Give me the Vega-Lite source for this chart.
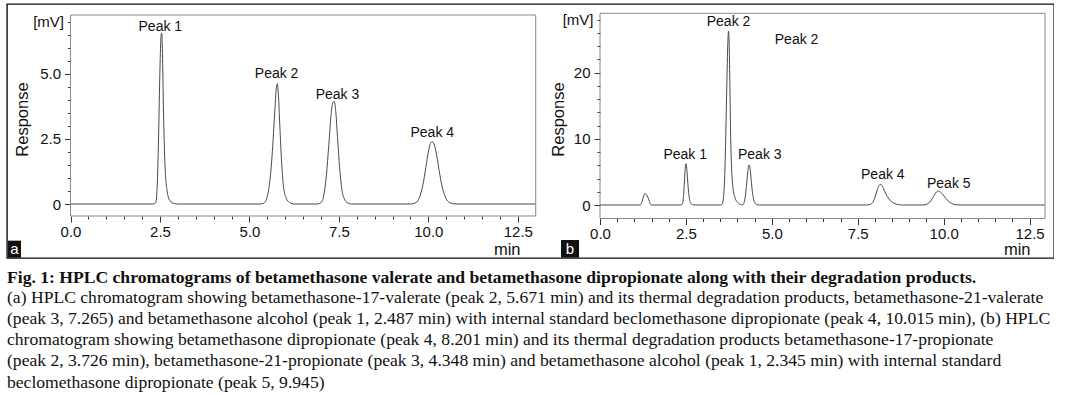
{
  "$schema": "https://vega.github.io/schema/vega-lite/v6.json",
  "width": 1047,
  "height": 254,
  "padding": {"left": 7, "top": 4, "right": 0, "bottom": 0},
  "background": "white",
  "datasets": {
    "a_trace": [
      {"t": 0, "r": 0}, {"t": 2.30, "r": 0}, {"t": 2.38, "r": 0.05}, {"t": 2.42, "r": 0.6}, {"t": 2.46, "r": 2.5}, {"t": 2.50, "r": 5.2}, {"t": 2.53, "r": 6.45}, {"t": 2.55, "r": 6.58}, {"t": 2.57, "r": 5.8}, {"t": 2.60, "r": 3.5}, {"t": 2.64, "r": 1.5}, {"t": 2.70, "r": 0.5}, {"t": 2.78, "r": 0.12}, {"t": 2.90, "r": 0.02}, {"t": 3.0, "r": 0},
      {"t": 5.30, "r": 0}, {"t": 5.40, "r": 0.03}, {"t": 5.50, "r": 0.3}, {"t": 5.58, "r": 1.0}, {"t": 5.65, "r": 2.2}, {"t": 5.71, "r": 3.6}, {"t": 5.76, "r": 4.55}, {"t": 5.78, "r": 4.62}, {"t": 5.81, "r": 4.2}, {"t": 5.85, "r": 3.0}, {"t": 5.90, "r": 1.6}, {"t": 5.95, "r": 0.7}, {"t": 6.02, "r": 0.25}, {"t": 6.12, "r": 0.06}, {"t": 6.25, "r": 0},
      {"t": 6.90, "r": 0}, {"t": 7.00, "r": 0.05}, {"t": 7.08, "r": 0.35}, {"t": 7.15, "r": 1.1}, {"t": 7.22, "r": 2.3}, {"t": 7.28, "r": 3.4}, {"t": 7.33, "r": 3.9}, {"t": 7.37, "r": 3.95}, {"t": 7.41, "r": 3.6}, {"t": 7.46, "r": 2.6}, {"t": 7.52, "r": 1.4}, {"t": 7.58, "r": 0.6}, {"t": 7.65, "r": 0.2}, {"t": 7.75, "r": 0.04}, {"t": 7.85, "r": 0},
      {"t": 9.50, "r": 0}, {"t": 9.65, "r": 0.05}, {"t": 9.75, "r": 0.25}, {"t": 9.85, "r": 0.75}, {"t": 9.93, "r": 1.4}, {"t": 10.00, "r": 2.0}, {"t": 10.06, "r": 2.33}, {"t": 10.11, "r": 2.4}, {"t": 10.16, "r": 2.3}, {"t": 10.23, "r": 1.9}, {"t": 10.30, "r": 1.3}, {"t": 10.38, "r": 0.7}, {"t": 10.47, "r": 0.28}, {"t": 10.57, "r": 0.08}, {"t": 10.70, "r": 0.01}, {"t": 10.80, "r": 0}, {"t": 13.0, "r": 0}
    ],
    "b_trace": [
      {"t": 0, "r": 0}, {"t": 1.12, "r": 0}, {"t": 1.18, "r": 0.05}, {"t": 1.23, "r": 0.6}, {"t": 1.27, "r": 1.4}, {"t": 1.31, "r": 1.75}, {"t": 1.35, "r": 1.55}, {"t": 1.40, "r": 1.1}, {"t": 1.44, "r": 0.5}, {"t": 1.48, "r": 0.05}, {"t": 1.53, "r": 0},
      {"t": 2.32, "r": 0}, {"t": 2.39, "r": 0.1}, {"t": 2.43, "r": 1.3}, {"t": 2.46, "r": 3.8}, {"t": 2.48, "r": 5.5}, {"t": 2.50, "r": 6.25}, {"t": 2.53, "r": 5.2}, {"t": 2.56, "r": 3.0}, {"t": 2.60, "r": 1.0}, {"t": 2.64, "r": 0.3}, {"t": 2.70, "r": 0.05}, {"t": 2.78, "r": 0},
      {"t": 3.48, "r": 0}, {"t": 3.55, "r": 0.1}, {"t": 3.59, "r": 1.0}, {"t": 3.63, "r": 4.5}, {"t": 3.66, "r": 10.5}, {"t": 3.69, "r": 18}, {"t": 3.72, "r": 24.5}, {"t": 3.74, "r": 26.3}, {"t": 3.76, "r": 24.0}, {"t": 3.78, "r": 18}, {"t": 3.80, "r": 11}, {"t": 3.83, "r": 5.5}, {"t": 3.87, "r": 2.6}, {"t": 3.93, "r": 1.1}, {"t": 4.00, "r": 0.4}, {"t": 4.08, "r": 0.1}, {"t": 4.15, "r": 0.02},
      {"t": 4.17, "r": 0.1}, {"t": 4.22, "r": 1.0}, {"t": 4.26, "r": 2.8}, {"t": 4.30, "r": 5.0}, {"t": 4.34, "r": 6.05}, {"t": 4.37, "r": 5.4}, {"t": 4.41, "r": 3.2}, {"t": 4.45, "r": 1.4}, {"t": 4.50, "r": 0.4}, {"t": 4.56, "r": 0.08}, {"t": 4.64, "r": 0},
      {"t": 7.75, "r": 0}, {"t": 7.87, "r": 0.1}, {"t": 7.95, "r": 0.5}, {"t": 8.01, "r": 1.3}, {"t": 8.07, "r": 2.3}, {"t": 8.12, "r": 2.95}, {"t": 8.17, "r": 3.1}, {"t": 8.22, "r": 2.8}, {"t": 8.28, "r": 2.1}, {"t": 8.36, "r": 1.3}, {"t": 8.46, "r": 0.6}, {"t": 8.56, "r": 0.25}, {"t": 8.68, "r": 0.07}, {"t": 8.80, "r": 0},
      {"t": 9.37, "r": 0}, {"t": 9.49, "r": 0.08}, {"t": 9.59, "r": 0.4}, {"t": 9.67, "r": 0.95}, {"t": 9.74, "r": 1.6}, {"t": 9.80, "r": 2.0}, {"t": 9.85, "r": 2.12}, {"t": 9.91, "r": 1.95}, {"t": 9.99, "r": 1.5}, {"t": 10.07, "r": 0.95}, {"t": 10.17, "r": 0.45}, {"t": 10.27, "r": 0.15}, {"t": 10.39, "r": 0.03}, {"t": 10.52, "r": 0}, {"t": 12.95, "r": 0}
    ],
    "a_labels": [
      {"t": 2.51, "r": 6.66, "label": "Peak 1"},
      {"t": 5.76, "r": 4.86, "label": "Peak 2"},
      {"t": 7.46, "r": 4.02, "label": "Peak 3"},
      {"t": 10.11, "r": 2.59, "label": "Peak 4"}
    ],
    "b_labels": [
      {"t": 2.48, "r": 7.0, "label": "Peak 1"},
      {"t": 3.74, "r": 27.0, "label": "Peak 2"},
      {"t": 5.72, "r": 24.4, "label": "Peak 2"},
      {"t": 4.65, "r": 7.0, "label": "Peak 3"},
      {"t": 8.23, "r": 3.88, "label": "Peak 4"},
      {"t": 10.15, "r": 2.62, "label": "Peak 5"}
    ],
    "a_frame": [{"t": 0, "t2": 13, "r": -0.4615, "r2": 7.269}],
    "b_frame": [{"t": 0, "t2": 12.95, "r": -2.04, "r2": 28.98}],
    "a_badge": [{"t": -1.747, "t2": -1.383, "r": -2.065, "r2": -1.41, "tc": -1.565, "rc": -1.74, "label": "a"}],
    "b_badge": [{"t": -1.134, "t2": -0.61, "r": -7.96, "r2": -5.29, "tc": -0.872, "rc": -6.62, "label": "b"}]
  },
  "title": {
    "text": "Fig. 1: HPLC chromatograms of betamethasone valerate and betamethasone dipropionate along with their degradation products.",
    "subtitle": [
      "(a) HPLC chromatogram showing betamethasone-17-valerate (peak 2, 5.671 min) and its thermal degradation products, betamethasone-21-valerate",
      "(peak 3, 7.265) and betamethasone alcohol (peak 1, 2.487 min) with internal standard beclomethasone dipropionate (peak 4, 10.015 min), (b) HPLC",
      "chromatogram showing betamethasone dipropionate (peak 4, 8.201 min) and its thermal degradation products betamethasone-17-propionate",
      "(peak 2, 3.726 min), betamethasone-21-propionate (peak 3, 4.348 min) and betamethasone alcohol (peak 1, 2.345 min) with internal standard",
      "beclomethasone dipropionate (peak 5, 9.945)"
    ],
    "orient": "bottom",
    "anchor": "start",
    "frame": "bounds",
    "offset": 11,
    "font": "Liberation Serif",
    "fontSize": 17.6,
    "fontWeight": "bold",
    "color": "#111",
    "subtitleFont": "Liberation Serif",
    "subtitleFontSize": 17.6,
    "subtitleFontWeight": "normal",
    "subtitleColor": "#111",
    "subtitleLineHeight": 21.3,
    "subtitlePadding": 2
  },
  "layer": [
    {
      "layer": [
        {
          "data": {"name": "a_trace"},
          "mark": {"type": "line", "interpolate": "monotone", "stroke": "#4a4a4a", "strokeWidth": 1},
          "encoding": {
            "x": {
              "field": "t", "type": "quantitative",
              "scale": {"domain": [0, 13], "range": [63.5, 528.7], "nice": false, "zero": false},
              "axis": {
                "title": "min", "orient": "bottom", "offset": -42, "labelOverlap": false, "tickCount": 100,
                "values": [0, 0.5, 1, 1.5, 2, 2.5, 3, 3.5, 4, 4.5, 5, 5.5, 6, 6.5, 7, 7.5, 8, 8.5, 9, 9.5, 10, 10.5, 11, 11.5, 12, 12.5],
                "labelExpr": "datum.value % 2.5 === 0 ? format(datum.value, '.1f') : ''",
                "tickSize": {"condition": {"test": "datum.value % 2.5 === 0", "value": 6}, "value": 3},
                "labelPadding": 2,
                "titleX": 513, "titleY": 38, "titleAlign": "right", "titleBaseline": "alphabetic"
              }
            },
            "y": {
              "field": "r", "type": "quantitative",
              "scale": {"domain": [-0.4615, 7.269], "range": [212, 11], "nice": false, "zero": false},
              "axis": {
                "title": "Response", "orient": "left", "offset": -63.5, "labelOverlap": false, "tickCount": 100,
                "values": [0, 0.5, 1, 1.5, 2, 2.5, 3, 3.5, 4, 4.5, 5, 5.5, 6, 6.5, 7],
                "labelExpr": "datum.value === 7 ? '[mV]' : (datum.value === 0 ? '0' : (datum.value % 2.5 === 0 ? format(datum.value, '.1f') : ''))",
                "tickSize": {"condition": {"test": "datum.value % 2.5 === 0", "value": 6}, "value": 3},
                "labelPadding": 4,
                "titleX": -48, "titleY": 115, "titleAngle": 270, "titleAlign": "center", "titleBaseline": "middle"
              }
            }
          }
        },
        {
          "data": {"name": "a_frame"},
          "mark": {"type": "rect", "fill": "white", "fillOpacity": 0, "stroke": "#8a8a8a", "strokeWidth": 1},
          "encoding": {
            "x": {"field": "t", "type": "quantitative"},
            "x2": {"field": "t2"},
            "y": {"field": "r", "type": "quantitative"},
            "y2": {"field": "r2"}
          }
        },
        {
          "data": {"name": "a_labels"},
          "mark": {"type": "text", "font": "Liberation Sans", "fontSize": 14, "align": "center", "baseline": "alphabetic", "color": "#111"},
          "encoding": {
            "x": {"field": "t", "type": "quantitative"},
            "y": {"field": "r", "type": "quantitative"},
            "text": {"field": "label"}
          }
        },
        {
          "data": {"name": "a_badge"},
          "mark": {"type": "rect", "fill": "#111"},
          "encoding": {
            "x": {"field": "t", "type": "quantitative"},
            "x2": {"field": "t2"},
            "y": {"field": "r", "type": "quantitative"},
            "y2": {"field": "r2"}
          }
        },
        {
          "data": {"name": "a_badge"},
          "mark": {"type": "text", "font": "Liberation Sans", "fontSize": 15, "align": "center", "baseline": "middle", "color": "white"},
          "encoding": {
            "x": {"field": "tc", "type": "quantitative"},
            "y": {"field": "rc", "type": "quantitative"},
            "text": {"field": "label"}
          }
        }
      ]
    },
    {
      "layer": [
        {
          "data": {"name": "b_trace"},
          "mark": {"type": "line", "interpolate": "monotone", "stroke": "#4a4a4a", "strokeWidth": 1},
          "encoding": {
            "x": {
              "field": "t", "type": "quantitative",
              "scale": {"domain": [0, 12.95], "range": [593, 1038], "nice": false, "zero": false},
              "axis": {
                "title": "min", "orient": "bottom", "offset": -39.5, "labelOverlap": false, "tickCount": 100,
                "values": [0, 0.5, 1, 1.5, 2, 2.5, 3, 3.5, 4, 4.5, 5, 5.5, 6, 6.5, 7, 7.5, 8, 8.5, 9, 9.5, 10, 10.5, 11, 11.5, 12, 12.5],
                "labelExpr": "datum.value % 2.5 === 0 ? format(datum.value, '.1f') : ''",
                "tickSize": {"condition": {"test": "datum.value % 2.5 === 0", "value": 6}, "value": 3},
                "labelPadding": 2,
                "titleX": 1023, "titleY": 35.5, "titleAlign": "right", "titleBaseline": "alphabetic"
              }
            },
            "y": {
              "field": "r", "type": "quantitative",
              "scale": {"domain": [-2.04, 28.98], "range": [214.5, 9.3], "nice": false, "zero": false},
              "axis": {
                "title": "Response", "orient": "left", "offset": -593, "labelOverlap": false, "tickCount": 100,
                "values": [0, 2, 4, 6, 8, 10, 12, 14, 16, 18, 20, 22, 24, 26, 28],
                "labelExpr": "datum.value === 28 ? '[mV]' : (datum.value % 10 === 0 ? format(datum.value, 'd') : '')",
                "tickSize": {"condition": {"test": "datum.value % 10 === 0", "value": 6}, "value": 3},
                "labelPadding": 4,
                "titleX": -42, "titleY": 115, "titleAngle": 270, "titleAlign": "center", "titleBaseline": "middle"
              }
            }
          }
        },
        {
          "data": {"name": "b_frame"},
          "mark": {"type": "rect", "fill": "white", "fillOpacity": 0, "stroke": "#8a8a8a", "strokeWidth": 1},
          "encoding": {
            "x": {"field": "t", "type": "quantitative"},
            "x2": {"field": "t2"},
            "y": {"field": "r", "type": "quantitative"},
            "y2": {"field": "r2"}
          }
        },
        {
          "data": {"name": "b_labels"},
          "mark": {"type": "text", "font": "Liberation Sans", "fontSize": 14, "align": "center", "baseline": "alphabetic", "color": "#111"},
          "encoding": {
            "x": {"field": "t", "type": "quantitative"},
            "y": {"field": "r", "type": "quantitative"},
            "text": {"field": "label"}
          }
        },
        {
          "data": {"name": "b_badge"},
          "mark": {"type": "rect", "fill": "#111"},
          "encoding": {
            "x": {"field": "t", "type": "quantitative"},
            "x2": {"field": "t2"},
            "y": {"field": "r", "type": "quantitative"},
            "y2": {"field": "r2"}
          }
        },
        {
          "data": {"name": "b_badge"},
          "mark": {"type": "text", "font": "Liberation Sans", "fontSize": 15, "align": "center", "baseline": "middle", "color": "white"},
          "encoding": {
            "x": {"field": "tc", "type": "quantitative"},
            "y": {"field": "rc", "type": "quantitative"},
            "text": {"field": "label"}
          }
        }
      ]
    }
  ],
  "resolve": {"scale": {"x": "independent", "y": "independent"}},
  "config": {
    "view": {"stroke": "#111", "strokeWidth": 1.4},
    "axis": {
      "grid": false, "domain": false,
      "labelFont": "Liberation Sans", "labelFontSize": 15, "labelColor": "#111",
      "titleFont": "Liberation Sans", "titleFontSize": 16.5, "titleFontWeight": "normal", "titleColor": "#111",
      "tickColor": "#333", "tickWidth": 1,
      "labelOverlap": false, "labelFlush": false, "labelBound": false
    }
  }
}
